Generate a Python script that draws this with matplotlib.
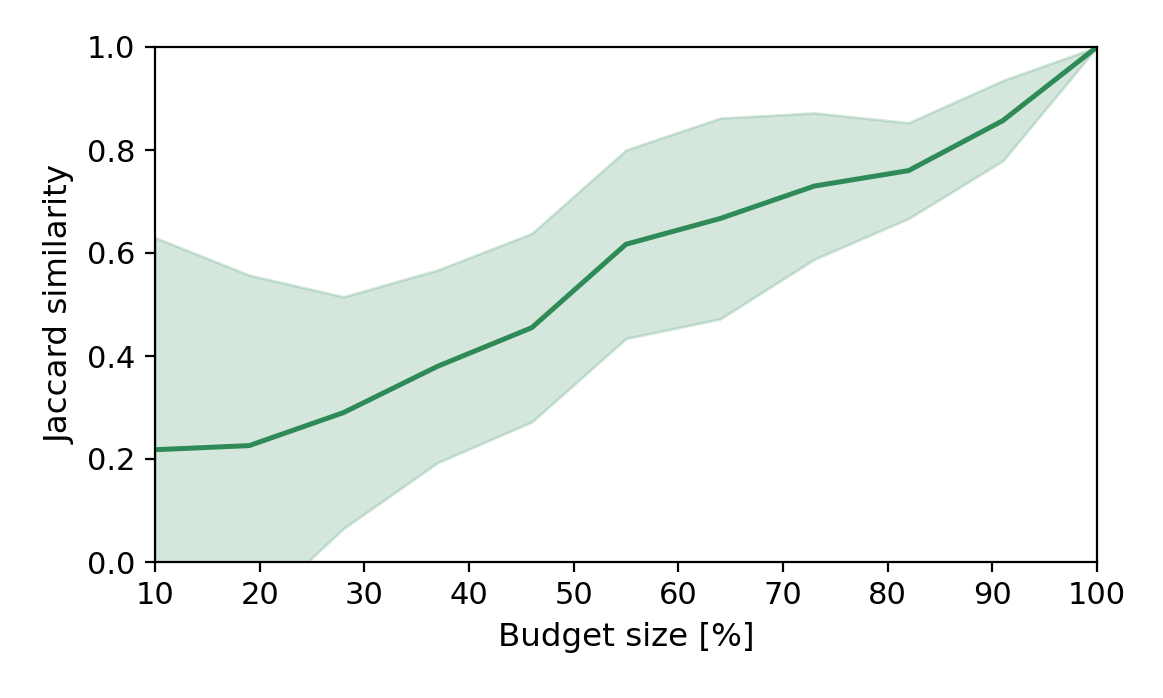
import numpy as np
import matplotlib
matplotlib.use("Agg")
import matplotlib.pyplot as plt

# budget sizes in percent
budget = [10, 19, 28, 37, 46, 55, 64, 73, 82, 91, 100]
# mean jaccard similarity
jaccard_mean = [0.218, 0.226, 0.290, 0.380, 0.455, 0.617, 0.667, 0.730, 0.760, 0.857, 1.000]
# spread (std) around mean
jaccard_std = [0.412, 0.331, 0.225, 0.187, 0.183, 0.183, 0.195, 0.142, 0.093, 0.078, 0.0]

plt.rcParams['font.size'] = 11
plt.rcParams['axes.labelsize'] = 11.7

x = np.array(budget)
m = np.array(jaccard_mean)
s = np.array(jaccard_std)

fig = plt.figure(figsize=(5.815, 3.49), dpi=200)
ax = fig.add_axes([155 / 1163, 1 - 562 / 698, (1097 - 155) / 1163, (562 - 47) / 698])

color = "seagreen"
ax.fill_between(x, m - s, m + s, color=color, alpha=0.2)
ax.plot(x, m, color=color, linewidth=1.8)

ax.set_xlim(10, 100)
ax.set_ylim(0, 1)
ax.set_xticks([10, 20, 30, 40, 50, 60, 70, 80, 90, 100])
ax.set_yticks([0.0, 0.2, 0.4, 0.6, 0.8, 1.0])
ax.set_xlabel("Budget size [%]")
ax.set_ylabel("Jaccard similarity")

fig.savefig("out.png", dpi=200)
